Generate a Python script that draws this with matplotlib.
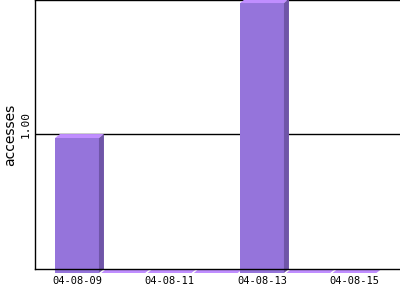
import matplotlib
matplotlib.use('Agg')
import matplotlib.pyplot as plt
import matplotlib.transforms as mtransforms
from matplotlib.patches import Polygon

# daily access counts
days = ['04-08-09', '04-08-10', '04-08-11', '04-08-12', '04-08-13', '04-08-14', '04-08-15']
accesses = [1, 0, 0, 0, 2, 0, 0]
tick_days = ['04-08-09', '04-08-11', '04-08-13', '04-08-15']

front_color = '#9574DB'
top_color = '#C08EFF'
side_color = '#6F55A8'

fig = plt.figure(figsize=(4, 3), dpi=100)
ax = fig.add_axes([35 / 400, 31 / 300, 365 / 400, 269 / 300])

ax.set_xlim(-0.908, 6.984)
ax.set_ylim(0, 1.993)

# pseudo 3D offsets (in data units)
dx = 5 / 46.25
dy = 4 / 135
w = 0.95

for i, v in enumerate(accesses):
    x0 = i - w / 2
    x1 = i + w / 2
    y0 = -dy
    y1 = v - dy
    front = Polygon([(x0, y0), (x1, y0), (x1, y1), (x0, y1)], closed=True,
                    facecolor=front_color, edgecolor='none', clip_on=False, zorder=3)
    top = Polygon([(x0, y1), (x1, y1), (x1 + dx, y1 + dy), (x0 + dx, y1 + dy)], closed=True,
                  facecolor=top_color, edgecolor='none', clip_on=False, zorder=3)
    side = Polygon([(x1, y0), (x1 + dx, y0 + dy), (x1 + dx, y1 + dy), (x1, y1)], closed=True,
                   facecolor=side_color, edgecolor='none', clip_on=False, zorder=3)
    ax.add_patch(front)
    ax.add_patch(top)
    ax.add_patch(side)

ax.axhline(1, color='black', lw=1, zorder=1)

ax.spines['right'].set_visible(False)
for s in ['left', 'bottom', 'top']:
    ax.spines[s].set_linewidth(1)
ax.spines['bottom'].set_zorder(4)

ax.set_xticks([days.index(d) for d in tick_days])
ax.set_xticklabels(tick_days, fontfamily='DejaVu Sans Mono', fontsize=7.5)
ax.set_yticks([1])
ax.set_yticklabels(['1.00'], rotation=90, va='bottom', fontfamily='DejaVu Sans Mono', fontsize=8)
ax.tick_params(length=0, pad=5)
ax.tick_params(axis='y', pad=3)
shift = mtransforms.ScaledTranslation(0, -3 / 72, fig.dpi_scale_trans)
for lbl in ax.get_yticklabels():
    lbl.set_transform(lbl.get_transform() + shift)
ax.set_ylabel('accesses', fontsize=10, labelpad=3)

fig.savefig('out.png', dpi=100)
